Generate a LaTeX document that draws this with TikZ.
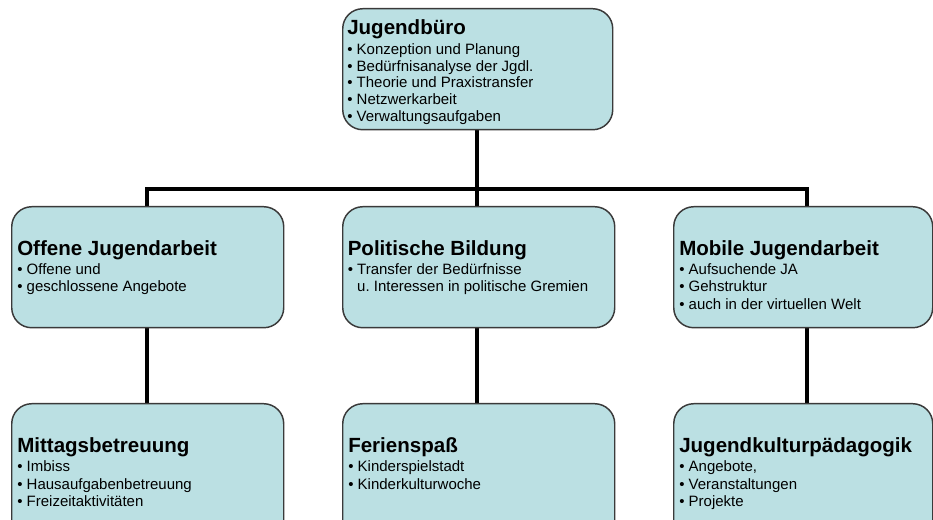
\documentclass[tikz,border=0pt]{standalone}
\usepackage{fontspec}
\setmainfont{Liberation Sans}
\usetikzlibrary{backgrounds}
\definecolor{boxfill}{HTML}{BBE0E3}
\definecolor{boxline}{HTML}{3A3A3A}
\newcommand{\ttl}[1]{{\fontsize{15.4pt}{15.4pt}\bfseries\selectfont\rule{0pt}{12pt}#1}}
\frenchspacing
\begin{document}
\begin{tikzpicture}[x=0.75pt,y=-0.75pt,
  box/.style={draw=boxline, line width=1.1pt, fill=boxfill, rounded corners=15pt,
    anchor=north west, inner sep=0pt},
  txt/.style={anchor=north west, inner sep=0pt, align=left,
    font=\fontsize{11.25pt}{13pt}\selectfont},
  toptxt/.style={txt, font=\fontsize{11.25pt}{12.5pt}\selectfont},
  conn/.style={line width=3pt, draw=black}]
\useasboundingbox (0,0) rectangle (933,520);
\clip (0,0) rectangle (933,520);
% boxes
\node[box, minimum width=202.5pt, minimum height=90.75pt] (top) at (342,8) {};
\node[box, minimum width=204pt, minimum height=90.75pt] (ml) at (11,206) {};
\node[box, minimum width=204pt, minimum height=90.75pt] (mm) at (342,206) {};
\node[box, minimum width=194.25pt, minimum height=90.75pt] (mr) at (673,206) {};
\node[box, minimum width=204pt, minimum height=102.75pt] (bl) at (11,403) {};
\node[box, minimum width=204pt, minimum height=102.75pt] (bm) at (342,403) {};
\node[box, minimum width=194.25pt, minimum height=102.75pt] (br) at (673,403) {};
% texts
\node[toptxt] (ttop) at (347,18) {\ttl{Jugendbüro}\\[2.7pt]
  • Konzeption und Planung\\
  • Bedürfnisanalyse der Jgdl.\\
  • Theorie und Praxistransfer\\
  • Netzwerkarbeit\\
  • Verwaltungsaufgaben};
\node[txt] (tml) at (17,239) {\ttl{Offene Jugendarbeit}\\[1.5pt]
  • Offene und\\
  • geschlossene Angebote};
\node[txt] (tmm) at (347.5,239) {\ttl{Politische Bildung}\\[1.5pt]
  • Transfer der Bedürfnisse\\
  \phantom{• }u. Interessen in politische Gremien};
\node[txt] (tmr) at (679,239) {\ttl{Mobile Jugendarbeit}\\[1.5pt]
  • Aufsuchende JA\\
  • Gehstruktur\\
  • auch in der virtuellen Welt};
\node[txt] (tbl) at (17,436.3) {\ttl{Mittagsbetreuung}\\[1.5pt]
  • Imbiss\\
  • Hausaufgabenbetreuung\\
  • Freizeitaktivitäten};
\node[txt] (tbm) at (348,436.3) {\ttl{Ferienspaß}\\[1.5pt]
  • Kinderspielstadt\\
  • Kinderkulturwoche};
\node[txt] (tbr) at (679,436.3) {\ttl{Jugendkulturpädagogik}\\[1.5pt]
  • Angebote,\\
  • Veranstaltungen\\
  • Projekte};
% connectors
\coordinate (bus) at (477,189.5);
\coordinate (xl) at (146.5,0);
\coordinate (xm) at (477,0);
\coordinate (xr) at (807,0);
\begin{scope}[on background layer]
\draw[conn] (top.south -| xm) -- (bus);
\draw[conn] (ml.north -| xl) |- (bus) -| (mr.north -| xr);
\draw[conn] (bus) -- (mm.north -| xm);
\draw[conn] (ml.south -| xl) -- (bl.north -| xl);
\draw[conn] (mm.south -| xm) -- (bm.north -| xm);
\draw[conn] (mr.south -| xr) -- (br.north -| xr);
\end{scope}
\end{tikzpicture}
\end{document}
